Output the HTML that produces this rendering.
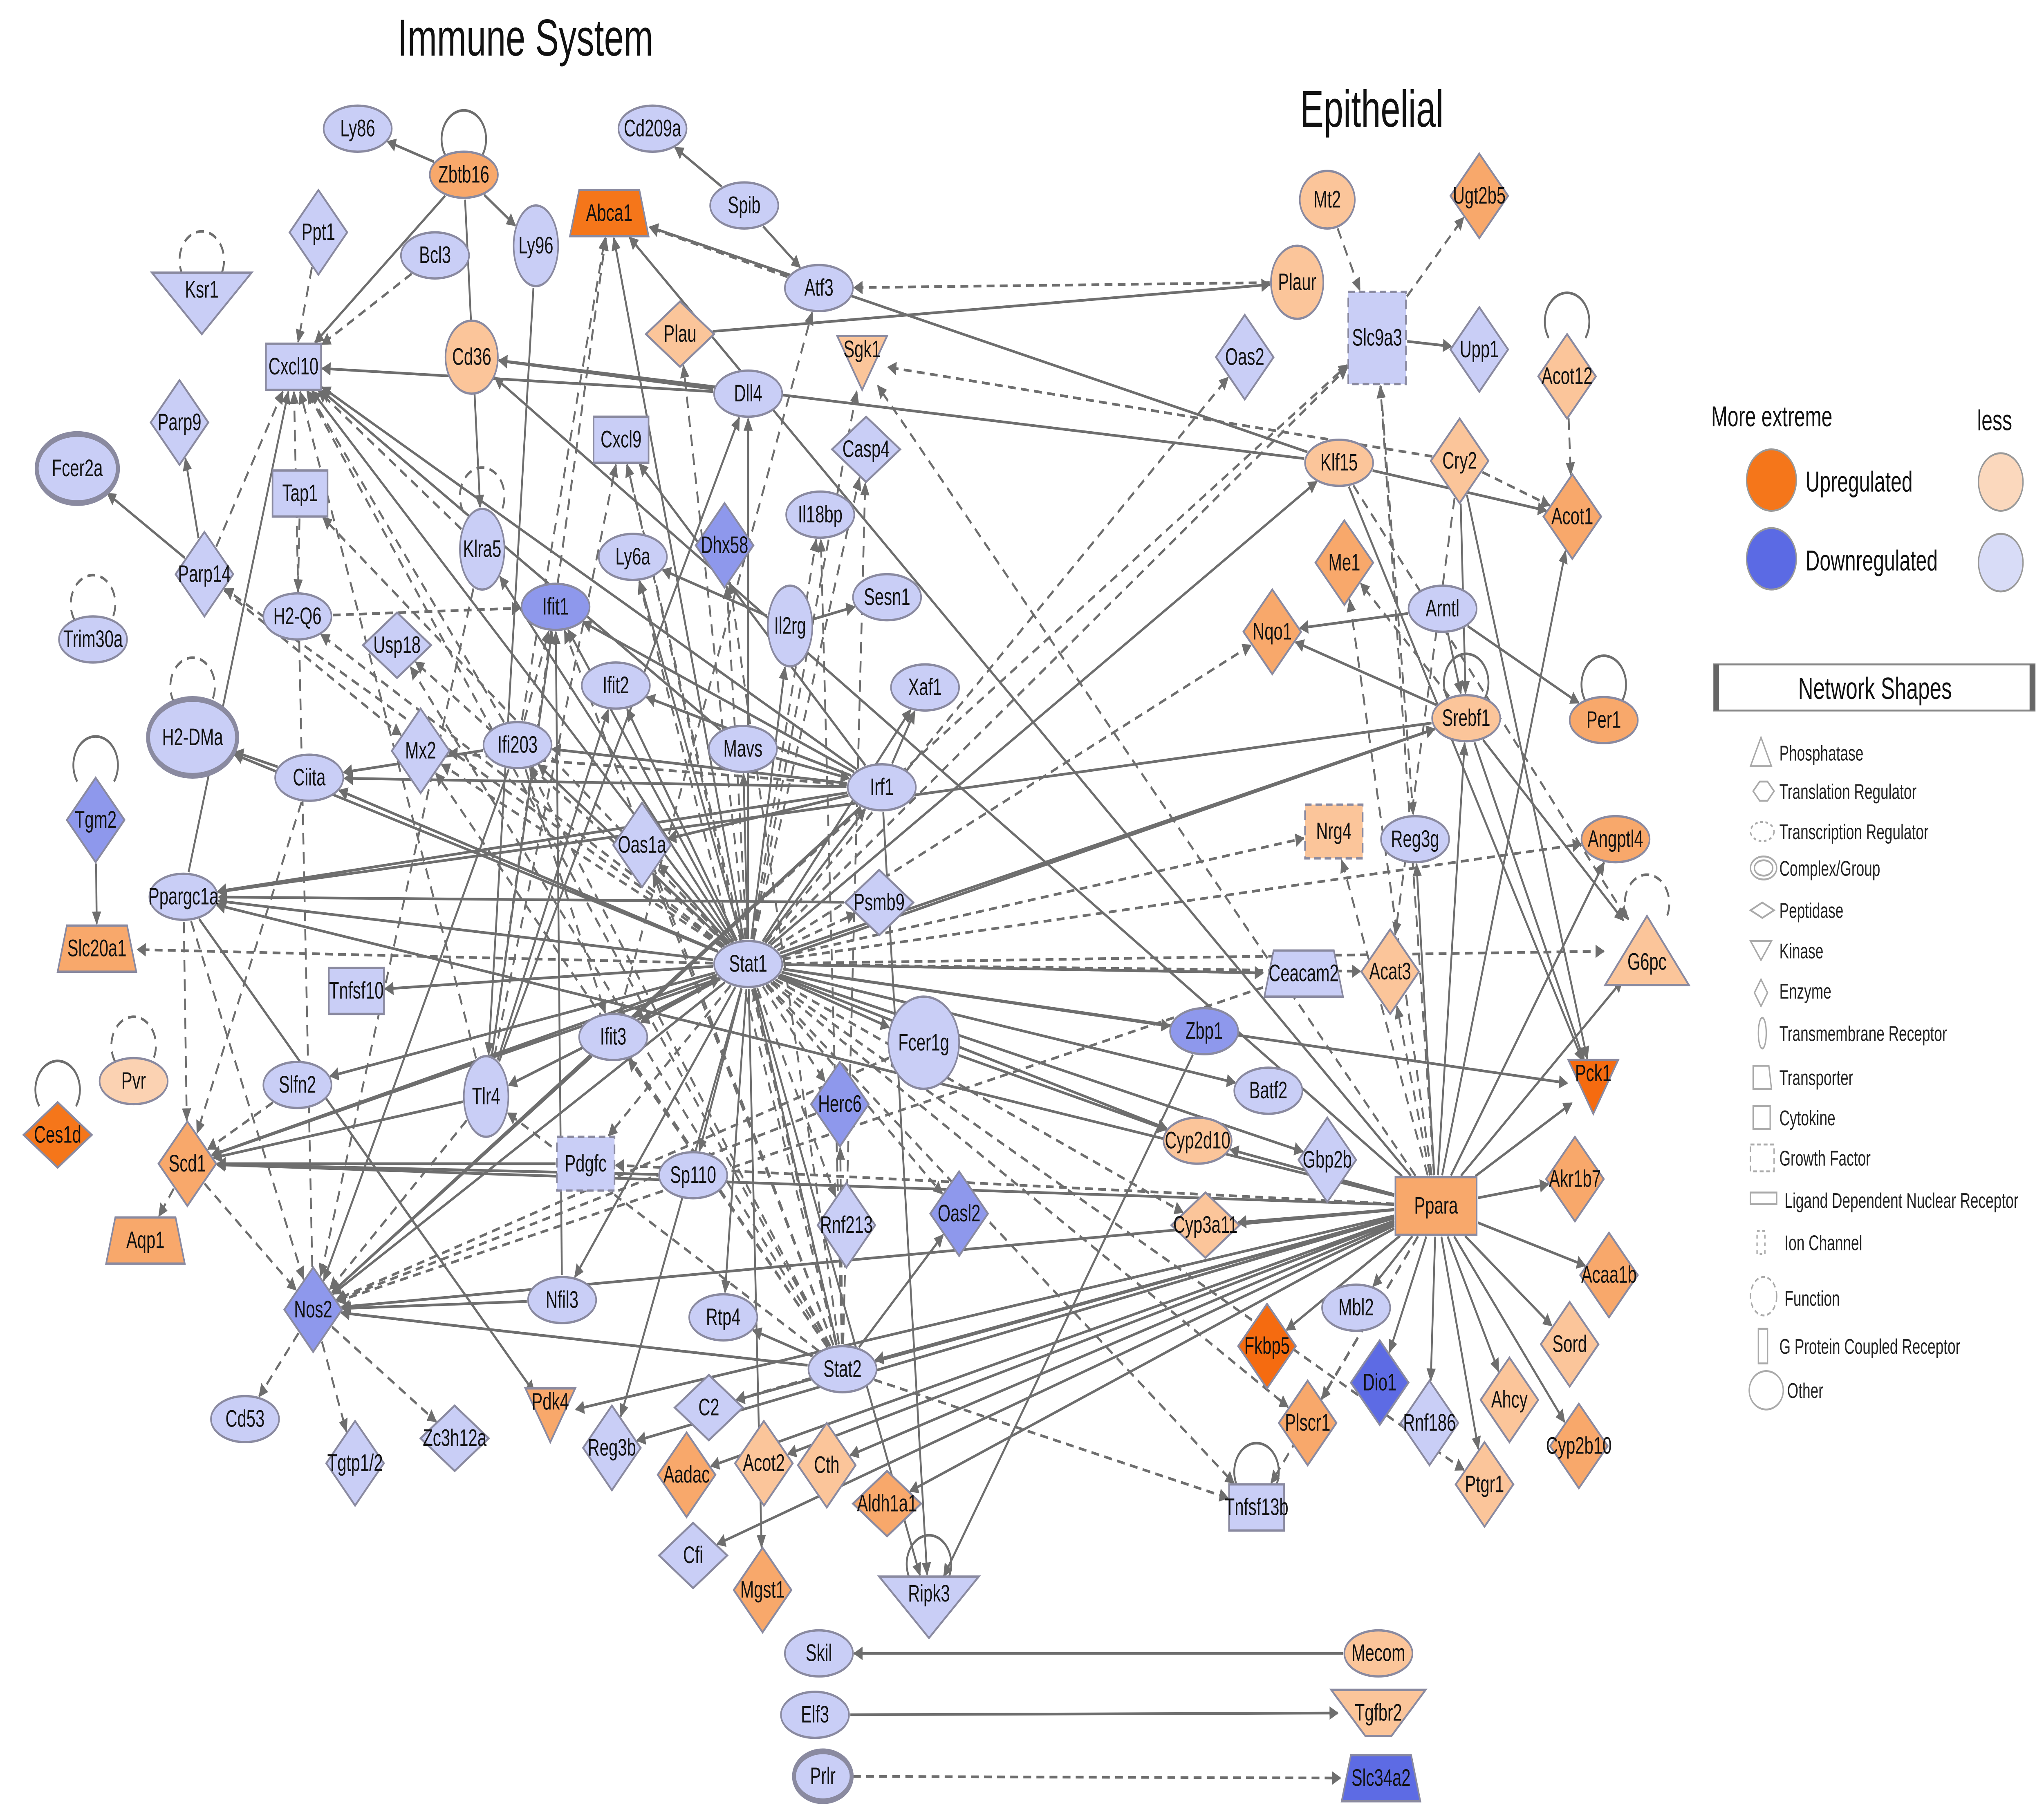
<!DOCTYPE html>
<html><head><meta charset="utf-8"><style>
html,body{margin:0;padding:0;background:#fff;overflow:hidden;width:100%;height:100%;}
svg{display:block;position:absolute;left:0;top:0;width:100vw;height:100vh;}
text{font-family:"Liberation Sans",Arial,sans-serif;}
</style></head><body>
<svg id="s" viewBox="0 0 1560 943.6" preserveAspectRatio="none" xmlns="http://www.w3.org/2000/svg">
<defs><marker id="a" viewBox="0 0 10 10" refX="9" refY="5" markerWidth="7" markerHeight="7" orient="auto-start-reverse" markerUnits="userSpaceOnUse"><path d="M0,0L10,5L0,10z" fill="#6e6e6e"/></marker></defs>
<g id="edges" stroke="#6e6e6e" stroke-width="1.4" fill="none"></g>
<g id="nodes"></g>
<text x="401" y="29" font-size="27" text-anchor="middle" fill="#111">Immune System</text>
<text x="1047" y="66" font-size="27" text-anchor="middle" fill="#111">Epithelial</text>
<g font-size="15" fill="#111">
<text x="1306" y="222">More extreme</text>
<text x="1509" y="224">less</text>
<ellipse cx="1352" cy="250" rx="19" ry="16" fill="#f5761a" stroke="#999"/>
<text x="1378" y="256">Upregulated</text>
<ellipse cx="1352" cy="291" rx="19" ry="16" fill="#5b6ae4" stroke="#999"/>
<text x="1378" y="297">Downregulated</text>
<ellipse cx="1527" cy="251" rx="17" ry="15" fill="#fbd8bd" stroke="#999"/>
<ellipse cx="1527" cy="293" rx="17" ry="15" fill="#d8dcf7" stroke="#999"/>
</g>
<rect x="1308" y="346" width="245" height="24" fill="#fff" stroke="#888"/>
<rect x="1308" y="346" width="4" height="24" fill="#666"/><rect x="1549" y="346" width="4" height="24" fill="#666"/>
<text x="1431" y="364" font-size="16" text-anchor="middle" fill="#111">Network Shapes</text>
<g font-size="11" fill="#222" stroke="none">
<text x="1358" y="396">Phosphatase</text><text x="1358" y="416">Translation Regulator</text><text x="1358" y="437">Transcription Regulator</text><text x="1358" y="456">Complex/Group</text><text x="1358" y="478">Peptidase</text><text x="1358" y="499">Kinase</text><text x="1358" y="520">Enzyme</text><text x="1358" y="542">Transmembrane Receptor</text><text x="1358" y="565">Transporter</text><text x="1358" y="586">Cytokine</text><text x="1358" y="607">Growth Factor</text><text x="1362" y="629">Ligand Dependent Nuclear Receptor</text><text x="1362" y="651">Ion Channel</text><text x="1362" y="680">Function</text><text x="1358" y="705">G Protein Coupled Receptor</text><text x="1364" y="728">Other</text>
</g>
<g fill="none" stroke="#aaa" stroke-width="1">
<path d="M1336,399L1344,384L1352,399z"/><path d="M1338,412l5,-5h6l5,5l-5,5h-6z"/><ellipse cx="1345" cy="433" rx="9" ry="5" stroke-dasharray="2,2"/><ellipse cx="1346" cy="452" rx="10" ry="6"/><ellipse cx="1346" cy="452" rx="7" ry="4"/><path d="M1336,474l9,-4l9,4l-9,4z"/><path d="M1336,490h16l-8,10z"/><path d="M1344,510l5,7l-5,7l-5,-7z"/><ellipse cx="1345" cy="538" rx="3" ry="8"/><path d="M1338,555h12l2,12h-14z"/><rect x="1338" y="576" width="13" height="12"/><rect x="1336" y="596" width="18" height="14" stroke-dasharray="3,2"/><rect x="1336" y="621" width="20" height="6"/><rect x="1341" y="641" width="6" height="12" stroke-dasharray="2,2"/><circle cx="1346" cy="675" r="10" stroke-dasharray="3,2"/><rect x="1342" y="692" width="7" height="18"/><ellipse cx="1348" cy="724" rx="13" ry="10"/>
</g>
</svg>
<script>
var C={L:"#c9cef6",M:"#8e98ec",D:"#5d6be4",l:"#fbd2b2",m:"#f8a86b",d:"#f5761a",dd:"#f56b10",l2:"#fbc59a"};
var N={
Ly86:[273,67,'o','L'],Zbtb16:[354,91,'o','m'],Ly96:[409,128,'t2','L'],Cd209a:[498,67,'o','L'],Spib:[568,107,'o','L'],Abca1:[465,111,'tr','d'],Atf3:[625,150,'o','L'],Bcl3:[332,133,'o','L'],Ppt1:[243,121,'d','L'],Ksr1:[154,158,'vb','L'],Cxcl10:[224,191,'r','L'],Cd36:[360,186,'c','l2'],Plau:[519,174,'dw','l2'],Sgk1:[658,189,'v','l2'],Dll4:[571,205,'o','L'],Cxcl9:[474,229,'r','L'],Parp9:[137,220,'d','L'],Fcer2a:[59,244,'fb','L'],Tap1:[229,257,'r','L'],Casp4:[661,234,'dw','L'],Il18bp:[626,268,'o','L'],Ly6a:[483,290,'o','L'],Dhx58:[553,284,'d','M'],Klra5:[368,286,'t2','L'],Parp14:[156,299,'d','L'],'H2-Q6':[227,321,'o','L'],Ifit1:[424,316,'o','M'],Il2rg:[603,326,'t2','L'],Sesn1:[677,311,'o','L'],Trim30a:[71,333,'o','L'],Usp18:[303,336,'dw','L'],'H2-DMa':[147,384,'hb','L'],Ifit2:[470,357,'o','L'],Xaf1:[706,358,'o','L'],Mavs:[567,390,'o','L'],Ifi203:[395,388,'o','L'],Ciita:[236,405,'o','L'],Mx2:[321,391,'d','L'],Irf1:[673,410,'o','L'],Oas1a:[490,440,'d','L'],Tgm2:[73,427,'d','M'],Ppargc1a:[140,467,'o','L'],Psmb9:[671,470,'dw','L'],Stat1:[571,502,'o','L'],Slc20a1:[74,494,'tr','m'],Tnfsf10:[272,516,'r','L'],Ifit3:[468,540,'o','L'],Fcer1g:[705,543,'big','L'],Tlr4:[371,571,'t2','L'],Slfn2:[227,565,'o','L'],Pvr:[102,563,'o','l'],Ces1d:[44,591,'dw','d'],Herc6:[641,575,'d','M'],Scd1:[143,606,'d','m'],Pdgfc:[447,606,'rd','L'],Sp110:[529,612,'o','L'],Rnf213:[646,638,'d','L'],Oasl2:[732,632,'d','M'],Aqp1:[111,646,'tr','m'],Nos2:[239,682,'d','M'],Nfil3:[429,677,'o','L'],Rtp4:[552,686,'o','L'],Stat2:[643,713,'o','L'],Cd53:[187,739,'o','L'],'Tgtp1/2':[271,762,'d','L'],Zc3h12a:[347,749,'dw','L'],Pdk4:[420,737,'v','m'],Reg3b:[467,754,'d','L'],C2:[541,733,'dw','L'],Aadac:[524,768,'d','m'],Acot2:[583,762,'d','l2'],Cth:[631,763,'d','l2'],Aldh1a1:[677,783,'dw','m'],Cfi:[529,810,'dw','L'],Mgst1:[582,828,'d','m'],Ripk3:[709,837,'vb','L'],Skil:[625,861,'o','L'],Elf3:[622,893,'o','L'],Prlr:[628,925,'ob','L'],Mecom:[1052,861,'o','l2'],Tgfbr2:[1052,892,'ti','l2'],Slc34a2:[1054,926,'tr','D'],Tnfsf13b:[959,785,'r','L'],Plscr1:[998,741,'d','m'],Fkbp5:[967,701,'d','dd'],Cyp3a11:[920,638,'dw','l2'],Cyp2d10:[914,594,'o','l2'],Gbp2b:[1013,604,'d','L'],Batf2:[968,568,'o','L'],Zbp1:[919,537,'o','M'],Ceacam2:[995,507,'tr','L'],Acat3:[1061,506,'d','l2'],Nrg4:[1018,433,'rd','l2'],Reg3g:[1080,437,'o','L'],Ppara:[1096,628,'rp','m'],Mbl2:[1035,681,'o','L'],Dio1:[1053,720,'d','D'],Rnf186:[1091,741,'d','L'],Ptgr1:[1133,773,'d','l2'],Ahcy:[1152,729,'d','l2'],Sord:[1198,700,'d','l2'],Cyp2b10:[1205,753,'d','m'],Acaa1b:[1228,664,'d','m'],Akr1b7:[1202,614,'d','m'],Pck1:[1216,566,'v','dd'],G6pc:[1257,495,'tu','l2'],Angptl4:[1233,437,'o','m'],Srebf1:[1119,374,'o','l2'],Per1:[1224,375,'o','m'],Arntl:[1101,317,'o','L'],Nqo1:[971,329,'d','m'],Me1:[1026,293,'d','m'],Klf15:[1022,241,'o','l2'],Cry2:[1114,240,'d','l2'],Acot1:[1200,269,'d','m'],Acot12:[1196,196,'d','l2'],Upp1:[1129,182,'d','L'],Slc9a3:[1051,176,'sq','L'],Oas2:[950,186,'d','L'],Plaur:[990,147,'c','l2'],Mt2:[1013,104,'c2','l2'],Ugt2b5:[1129,102,'d','m']};
var E=`Zbtb16>Ly86;Zbtb16>Ly96;Zbtb16>Cxcl10;Zbtb16>Klra5;Spib>Cd209a;Spib>Atf3;Bcl3>Cxcl10.;Ppt1>Cxcl10.;Atf3>Abca1.;Atf3<Plaur.;Plau>Plaur;Cxcl10<Stat1;Cxcl10<Irf1;Cxcl10<Tlr4.;Cxcl10<Ifi203.;Cxcl10<Stat2.;Cxcl10<Ppargc1a;Cxcl10<Nos2.;Cxcl10<Mavs;Cxcl10<Klra5.;Cd36<Klf15;Cxcl9<Stat1.;Cxcl9<Irf1.;Parp14>Fcer2a;Parp14>Parp9;Parp14>Cxcl10.;Parp14>Mx2.;Tap1>H2-Q6.;H2-Q6>Ifit1.;Ly6a<Stat1;Dhx58<Stat1.;Il2rg<Stat1;Il18bp<Stat1.;Sesn1<Il2rg;Ifit1<Stat1;Ifit1<Irf1;Ifit1<Tlr4.;Ifit2<Stat1.;Ifit2<Irf1.;Xaf1<Stat1;Mavs>Cxcl10;Ifi203<Stat1;Ifi203>Ciita;Ciita<Stat1;Ciita>H2-DMa;Mx2<Stat1.;Oas1a<Stat1;Oas1a<Irf1.;Irf1<Stat1;Tgm2>Slc20a1;Ppargc1a<Stat1;Ppargc1a<Srebf1;Ppargc1a>Scd1.;Ppargc1a>Nos2.;Psmb9<Stat1.;Tnfsf10<Stat1;Ifit3<Stat1;Fcer1g<Stat1;Tlr4<Stat1;Tlr4>Nos2.;Tlr4>Cxcl9.;Slfn2<Stat1;Herc6<Stat1.;Scd1<Stat1;Scd1<Srebf1;Scd1<Ppara;Scd1>Aqp1.;Scd1>Nos2.;Pdgfc<Stat1.;Sp110<Stat1;Rnf213<Stat1.;Oasl2<Stat1.;Nos2<Stat1;Nos2<Irf1;Nos2<Nfil3;Nos2<Stat2.;Nos2>Cd53.;Nos2>Tgtp1/2.;Nos2>Zc3h12a.;Nfil3<Stat1;Rtp4<Stat1;Stat2>Stat1;Stat2>Nos2;Stat2>Ifit1.;Stat2>Rtp4;Stat2>Oasl2;Pdk4<Ppara;Pdk4<Ppargc1a;Reg3b<Stat1;C2<Stat2.;Acot2<Ppara;Cth<Ppara;Aldh1a1<Ppara;Mgst1<Stat1;Cfi<Ppara;Ripk3<Stat1;Ripk3<Irf1;Skil<Mecom;Elf3>Tgfbr2;Prlr>Slc34a2.;Tnfsf13b<Stat1.;Plscr1<Stat1.;Fkbp5<Ppara;Cyp3a11<Ppara;Cyp3a11<Stat1.;Cyp2d10<Stat1;Gbp2b<Stat1;Batf2<Stat1;Zbp1<Stat1;Ceacam2<Stat1;Acat3<Ppara.;Nrg4<Ppara.;Reg3g<Ppara;Mbl2<Ppara;Dio1<Ppara;Rnf186<Ppara;Ptgr1<Ppara;Ahcy<Ppara;Sord<Ppara;Cyp2b10<Ppara;Acaa1b<Ppara;Akr1b7<Ppara;Pck1<Ppara;Pck1<Srebf1;Pck1<Cry2;Pck1<Klf15;G6pc<Ppara;G6pc<Stat1.;G6pc<Srebf1;Angptl4<Ppara;Angptl4<Stat1.;Srebf1<Ppara;Srebf1<Arntl;Srebf1<Stat1;Per1<Arntl;Arntl>Nqo1;Nqo1<Stat1.;Me1<Ppara.;Klf15<Stat1;Klf15>Acot1;Cry2>Acot1.;Cry2>Srebf1;Upp1<Slc9a3;Slc9a3<Stat1.;Slc9a3<Ppara.;Slc9a3<Nos2.;Slc9a3>Ugt2b5.;Slc9a3>Reg3g.;Mt2>Slc9a3.;Oas2<Stat1.;Acot12>Acot1.;Sgk1<Cry2.;Sgk1<Stat1.;Abca1<Stat1;Abca1<Klf15;Abca1<Tlr4.;Abca1<Ifi203.;Abca1<Ppara.;Plau<Stat1.;Dll4>Cd36;Dll4<Stat1;Casp4<Stat1.;Klra5<Stat1;Cxcl10<Dll4;Ly96>Tlr4;Usp18<Stat1.;Ifi203>Nos2;Ifit3>Nos2;Mavs>Irf1;Fcer1g>Cyp2d10;Herc6>Nos2.;Pdgfc>Scd1;Tlr4>Ifit1;Tlr4>Stat1;Irf1>Ifit3;Psmb9>Ppargc1a;Stat1>Oas1a;Klra5>Nos2.;H2-DMa<Stat1;Tnfsf13b<Stat2.;Pck1<Stat1;Ppara>Cyp2d10;Ppara>Nos2;Ppara>Stat2;Ppara>C2;Ppara>Aadac;Ppara>Reg3b;Ppara>Acot1;Ppara>Angptl4;Ppara>Pdgfc.;Sp110>Scd1;Fcer1g>Nos2.;Zbp1>Ripk3;Ceacam2>Nos2.;Ppargc1a>Pdk4;Ciita>Scd1.;Scd1<Tlr4;Slfn2>Scd1.;Stat1>Slc20a1.;Irf1>Xaf1;Il2rg>Ly6a;Atf3<Ifit3.;Irf1>Ciita;Irf1>Mx2.;Irf1>Ppargc1a;Irf1>Ifi203;Irf1>Oas1a;Stat2>Ifit3.;Stat2>Ifi203.;Stat2>Oas1a.;Stat2>Mx2.;Stat2>Usp18.;Stat2>Tlr4.;Stat2>Il18bp.;Stat2>Casp4.;Stat2>Dhx58.;Stat2>Herc6.;Stat2>Cxcl9.;Stat1>Tap1.;Stat1>H2-Q6.;Stat1>Parp14.;Tlr4>Abca1.;Ifi203>Ifit1.;Nfil3>Ifit1;Ppara>Cd36;Ppara>Me1.;Ppara>Sgk1.;Ppara>Ppargc1a;Ppara>Abca1;Ppara>Plscr1.;Ppara>Tnfsf13b.;Srebf1>Me1.;Srebf1>Nqo1;Stat1>Ifit2;Stat1>Mavs;Stat1>Ciita.;Irf1>Ifit2;Stat1>Il2rg.;Stat1>Ifi203.;Tlr4>Ifit2;Ifi203>Ifit3.;Stat1>Nrg4.;Irf1>Cxcl9;Stat1>Abca1.;Tlr4>Dll4;Stat1>Tlr4.;Stat2>Ly6a.;Stat1>Ptgr1.;Cry2>Acat3.;Stat1>Acat3.;Klf15>G6pc.;Stat1>Ceacam2`;
var P=`Zbtb16:self;Ksr1:self.;Trim30a:self.;H2-DMa:self.;Tgm2:self;Pvr:self.;Ces1d:self;Klra5:self.;Srebf1:self;Per1:self;G6pc:self.;Acot12:self;Tnfsf13b:self;Ripk3:self`;
function sz(n){var t=n[2];switch(t){case'o':return[26,12];case'ob':return[22,13];case't2':return[17,21];case'c':return[20,19];case'c2':return[21,15];case'fb':return[31,18];case'hb':return[34,20];case'big':return[27,24];case'd':return[22,22];case'dw':return[26,17];case'r':return[21,12];case'rd':return[22,14];case'rp':return[31,15];case'sq':return[22,24];case'tr':case'ti':return[30,12];case'v':return[19,14];case'vb':return[38,16];case'tu':return[32,18];}return[24,12];}
var eg=document.getElementById('edges'),ng=document.getElementById('nodes'),ns='http://www.w3.org/2000/svg';
function el(t,a,p){var e=document.createElementNS(ns,t);for(var k in a)e.setAttribute(k,a[k]);p.appendChild(e);return e;}
function trim(x1,y1,x2,y2,n){var s=sz(n),dx=x1-x2,dy=y1-y2,L=Math.hypot(dx,dy)||1;var ux=dx/L,uy=dy/L;var r;if(n[2][0]=='d'){r=1/(Math.abs(ux)/s[0]+Math.abs(uy)/s[1]);}else if(n[2]=='r'||n[2]=='rd'||n[2]=='rp'||n[2]=='sq'||n[2]=='tr'||n[2]=='ti'){r=Math.min(s[0]/Math.max(Math.abs(ux),1e-6),s[1]/Math.max(Math.abs(uy),1e-6));}else{r=1/Math.sqrt(ux*ux/(s[0]*s[0])+uy*uy/(s[1]*s[1]));}return[x2+ux*(r+1),y2+uy*(r+1)];}
E.split(';').forEach(function(s){var d=s.endsWith('.');if(d)s=s.slice(0,-1);var rev=s.indexOf('<')>=0;var p=s.split(rev?'<':'>');var a=N[p[0]],b=N[p[1]];if(rev){var t=a;a=b;b=t;}if(!a||!b)return;var st=trim(b[0],b[1],a[0],a[1],a),en=trim(a[0],a[1],b[0],b[1],b);var o={x1:st[0],y1:st[1],x2:en[0],y2:en[1],'marker-end':'url(#a)'};if(d)o['stroke-dasharray']='6,4';el('line',o,eg);});
P.split(';').forEach(function(s){var d=s.endsWith('.');var n=N[s.split(':')[0]];var z=sz(n);var x=n[0],y=n[1]-z[1];var o={d:'M'+(x-14)+','+(y+2)+' A17,15 0 1 1 '+(x+14)+','+(y+2)};if(d)o['stroke-dasharray']='6,4';el('path',o,eg);});
for(var k in N){var n=N[k],x=n[0],y=n[1],s=sz(n),f=C[n[3]],t=n[2];var g=el('g',{fill:f,stroke:'#8a8aa0','stroke-width':1.2},ng);
if(t=='d'||t=='dw')el('path',{d:'M'+x+','+(y-s[1])+'L'+(x+s[0])+','+y+'L'+x+','+(y+s[1])+'L'+(x-s[0])+','+y+'Z'},g);
else if(t=='r'||t=='rd'||t=='rp'||t=='sq'){var o={x:x-s[0],y:y-s[1],width:2*s[0],height:2*s[1]};if(t=='rd'||t=='sq')o['stroke-dasharray']='5,3';el('rect',o,g);}
else if(t=='tr')el('path',{d:'M'+(x-s[0])+','+(y+s[1])+'L'+(x-s[0]+7)+','+(y-s[1])+'L'+(x+s[0]-7)+','+(y-s[1])+'L'+(x+s[0])+','+(y+s[1])+'Z'},g);
else if(t=='ti')el('path',{d:'M'+(x-s[0]-6)+','+(y-s[1])+'L'+(x+s[0]+6)+','+(y-s[1])+'L'+(x+10)+','+(y+s[1])+'L'+(x-10)+','+(y+s[1])+'Z'},g);
else if(t=='v'||t=='vb')el('path',{d:'M'+(x-s[0])+','+(y-s[1])+'L'+(x+s[0])+','+(y-s[1])+'L'+x+','+(y+s[1])+'Z'},g);
else if(t=='tu')el('path',{d:'M'+(x-s[0])+','+(y+s[1])+'L'+(x+s[0])+','+(y+s[1])+'L'+x+','+(y-s[1])+'Z'},g);
else{el('ellipse',{cx:x,cy:y,rx:s[0],ry:s[1],'stroke-width':(t=='fb'||t=='hb'||t=='ob')?3:1.2},g);}
var ty=y+4;if(t=='v'||t=='vb')ty=y-3;if(t=='tu')ty=y+10;
var tx=el('text',{x:x,y:ty,'text-anchor':'middle','font-size':12.5,fill:'#111',stroke:'none'},ng);tx.textContent=k;}
</script>
</body></html>
